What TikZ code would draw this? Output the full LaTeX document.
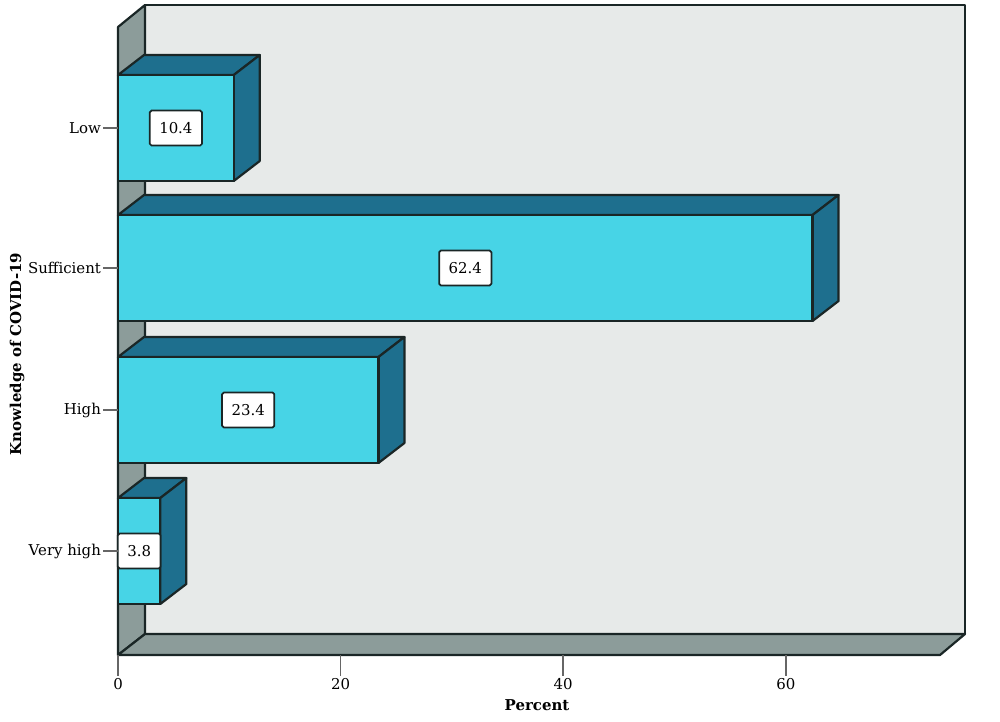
\documentclass[tikz,border=0pt]{standalone}
\usepackage{fontspec}
\setmainfont{DejaVu Serif}
\definecolor{barfront}{HTML}{47D4E6}
\definecolor{barside}{HTML}{1E6F8E}
\definecolor{wallgray}{HTML}{8C9C9A}
\definecolor{wallback}{HTML}{E7EAE9}
\definecolor{edge}{HTML}{1A2626}

\begin{document}
\begin{tikzpicture}[x=0.02cm, y=-0.02cm, line join=round,
    face/.style={draw=edge, line width=1.25pt},
    valbox/.style={draw=edge, fill=white, rounded corners=1pt, line width=1pt,
        inner xsep=0.19cm, inner ysep=0pt, minimum height=0.7cm, font=\fontsize{8.5}{10}\selectfont},
    ticklab/.style={inner sep=1pt, font=\fontsize{8.5}{10}\selectfont},
    axtitle/.style={inner sep=1pt, font=\fontsize{8.5}{10}\selectfont\bfseries},
    tickline/.style={draw=black!60, line width=1pt}]
    \useasboundingbox (0,0) rectangle (1000,721);
    % walls
    \draw[face, fill=wallback] (145,5) rectangle (965,634);
    \draw[face, fill=wallgray] (118,27) -- (145,5) -- (145,634) -- (118,655) -- cycle;
    \draw[face, fill=wallgray] (118,655) -- (145,634) -- (965,634) -- (940,655) -- cycle;
    % bars
    \foreach \nm/\v/\yt/\lab in {low/10.4/75/Low, suff/62.4/215/Sufficient,
        high/23.4/357/High, vhigh/3.8/498/Very high} {
        \pgfmathsetmacro\xr{118+11.13*\v}
        \draw[face, fill=barside] (118,\yt) -- (144,\yt-20) -- (\xr+26,\yt-20) -- (\xr,\yt) -- cycle;
        \draw[face, fill=barside] (\xr,\yt) -- (\xr+26,\yt-20) -- (\xr+26,\yt+86) -- (\xr,\yt+106) -- cycle;
        \draw[face, fill=barfront] (118,\yt) rectangle (\xr,\yt+106);
        \node[valbox] (val-\nm) at ({(118+\xr)/2},\yt+53) {\v};
        \coordinate (tick-\nm) at (118,\yt+53);
        \node[ticklab, anchor=east] (lab-\nm) at (103,\yt+53) {\lab};
        \draw[tickline] (lab-\nm.east) -- (tick-\nm);
    }
    % x axis
    \foreach \p in {0,20,40,60} {
        \coordinate (xt-\p) at (118+11.13*\p,655);
        \node[ticklab] (xl-\p) at (118+11.13*\p,684) {\p};
        \draw[tickline] (xt-\p) -- (xl-\p.north);
    }
    \node[axtitle] (xtitle) at (537,705) {Percent};
    \node[axtitle, rotate=90] (ytitle) at (17,354) {Knowledge of COVID-19};
\end{tikzpicture}
\end{document}
